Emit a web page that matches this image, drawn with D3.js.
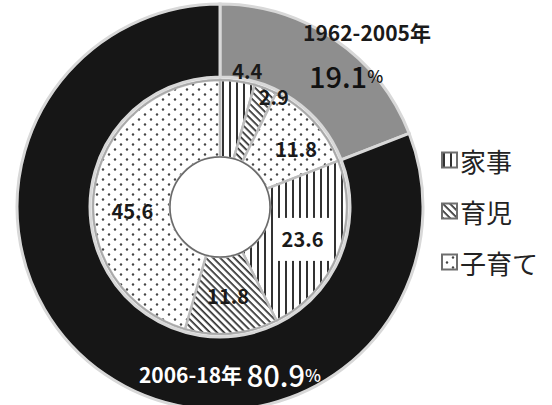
<!DOCTYPE html>
<html><head><meta charset="utf-8">
<script src="https://cdn.jsdelivr.net/npm/d3@7"></script>
<style>
html,body{margin:0;padding:0;background:#fff;}
svg{display:block;font-family:"Noto Sans CJK JP","Noto Sans",sans-serif;}
</style></head>
<body>
<svg id="chart" width="552" height="405"></svg>
<script>
// ---- data ----
const periods = ["1962-2005年", "2006-18年"];
const periodShares = [19.1, 80.9];
const categories = ["家事", "育児", "子育て"];
const earlyValues = [4.4, 2.9, 11.8];
const lateValues = [23.6, 11.8, 45.6];

// ---- layout ----
const W = 552, H = 405;
const cx = 220, cy = 207;
const rHole = 50, rInnerOuter = 127, rOuterInner = 130, rOuter = 203;

const svg = d3.select("#chart");
const defs = svg.append("defs");

// patterns
const pV = defs.append("pattern").attr("id", "pat-kaji").attr("patternUnits", "userSpaceOnUse")
  .attr("width", 7).attr("height", 7);
pV.append("rect").attr("width", 7).attr("height", 7).attr("fill", "#fff");
pV.append("rect").attr("x", 2).attr("width", 2).attr("height", 7).attr("fill", "#333");

const pD = defs.append("pattern").attr("id", "pat-ikuji").attr("patternUnits", "userSpaceOnUse")
  .attr("width", 5).attr("height", 5).attr("patternTransform", "rotate(45)");
pD.append("rect").attr("width", 5).attr("height", 5).attr("fill", "#fff");
pD.append("rect").attr("width", 5).attr("height", 1.7).attr("fill", "#2e2e2e");

const pDot = defs.append("pattern").attr("id", "pat-kosodate").attr("patternUnits", "userSpaceOnUse")
  .attr("width", 12).attr("height", 10);
pDot.append("rect").attr("width", 12).attr("height", 10).attr("fill", "#fff");
pDot.append("circle").attr("cx", 3).attr("cy", 2.5).attr("r", 1.2).attr("fill", "#444");
pDot.append("circle").attr("cx", 9).attr("cy", 7.5).attr("r", 1.2).attr("fill", "#444");

const patternOf = d3.scaleOrdinal().domain(categories)
  .range(["url(#pat-kaji)", "url(#pat-ikuji)", "url(#pat-kosodate)"]);
const periodFill = d3.scaleOrdinal().domain(periods).range(["#8e8e8e", "#141414"]);

const blur = defs.append("filter").attr("id", "soft");
blur.append("feGaussianBlur").attr("stdDeviation", 0.5);

const g = svg.append("g").attr("transform", `translate(${cx},${cy})`).attr("filter", "url(#soft)");

// outer ring
const pie = d3.pie().sort(null).value(d => d.v);
const outerData = pie(periods.map((p, i) => ({ p, v: periodShares[i] })));
const outerArc = d3.arc().innerRadius(rOuterInner).outerRadius(rOuter);
g.selectAll("path.outer").data(outerData).join("path")
  .attr("class", "outer")
  .attr("d", outerArc)
  .attr("fill", d => periodFill(d.data.p))
  .attr("stroke", "#d8d8d8").attr("stroke-width", 3);

// inner ring
const innerRows = [];
earlyValues.forEach((v, i) => innerRows.push({ c: categories[i], v }));
lateValues.forEach((v, i) => innerRows.push({ c: categories[i], v }));
const innerData = pie(innerRows);
const innerArc = d3.arc().innerRadius(rHole).outerRadius(rInnerOuter);
g.selectAll("path.inner").data(innerData).join("path")
  .attr("class", "inner")
  .attr("d", innerArc)
  .attr("fill", d => patternOf(d.data.c))
  .attr("stroke", "#bdbdbd").attr("stroke-width", 2.5);

// ring borders
g.append("circle").attr("r", rInnerOuter).attr("fill", "none").attr("stroke", "#a8a8a8").attr("stroke-width", 1.5);
g.append("circle").attr("r", rHole).attr("fill", "#fff").attr("stroke", "#6a6a6a").attr("stroke-width", 1.5);

// inner labels (centroid + nudge)
const labelNudge = [[15, -49], [22, -28], [11, 1], [0, 0], [0, 0], [0, 16]];
const labels = svg.append("g").attr("transform", `translate(${cx},${cy})`);
innerData.forEach((d, i) => {
  const [x, y] = innerArc.centroid(d);
  const lx = x + labelNudge[i][0], ly = y + labelNudge[i][1];
  const txt = d3.format(".1f")(d.data.v);
  const t = labels.append("text")
    .attr("x", lx).attr("y", ly)
    .attr("text-anchor", "middle").attr("dominant-baseline", "central")
    .attr("font-size", 20).attr("font-weight", "bold").attr("fill", "#1a1a1a")
    .text(txt);
  if (i === 3) {
    const bb = t.node().getBBox();
    labels.insert("rect", "text")
      .attr("x", bb.x - 4).attr("y", ly - 21)
      .attr("width", bb.width + 10).attr("height", 43)
      .attr("fill", "#fff");
  }
});

// outer labels
const outerNudge = [[[53, -38], [32, 5]], [[104, 30]]];
{
  const [x0, y0] = outerArc.centroid(outerData[0]);
  labels.append("text")
    .attr("x", x0 + outerNudge[0][0][0]).attr("y", y0 + outerNudge[0][0][1])
    .attr("text-anchor", "middle").attr("dominant-baseline", "central")
    .attr("font-size", 21).attr("font-weight", "bold").attr("fill", "#1a1a1a")
    .text(periods[0]);
  const t = labels.append("text")
    .attr("x", x0 + outerNudge[0][1][0]).attr("y", y0 + outerNudge[0][1][1])
    .attr("text-anchor", "middle").attr("dominant-baseline", "central")
    .attr("fill", "#111").attr("font-weight", 500);
  t.append("tspan").attr("font-size", 29).text(d3.format(".1f")(periodShares[0]));
  t.append("tspan").attr("font-size", 17).text("%");

  const [x1, y1] = outerArc.centroid(outerData[1]);
  const b = labels.append("text")
    .attr("x", x1 + outerNudge[1][0][0]).attr("y", y1 + outerNudge[1][0][1])
    .attr("text-anchor", "middle").attr("dominant-baseline", "central")
    .attr("fill", "#fff");
  b.append("tspan").attr("font-size", 21).attr("font-weight", "bold").text(periods[1] + " ");
  b.append("tspan").attr("font-size", 29).attr("font-weight", 500).text(d3.format(".1f")(periodShares[1]));
  b.append("tspan").attr("font-size", 17).attr("font-weight", 500).text("%");
}

// legend
const legendY = d3.scalePoint().domain(categories).range([160, 262]);
const leg = svg.append("g");
categories.forEach(c => {
  const y = legendY(c);
  leg.append("rect").attr("x", 442).attr("y", y - 7.5).attr("width", 15).attr("height", 15)
    .attr("fill", patternOf(c)).attr("stroke", "#6e6e6e").attr("stroke-width", 2);
  leg.append("text").attr("x", 460).attr("y", y)
    .attr("dominant-baseline", "central")
    .attr("font-size", 26).attr("fill", "#222")
    .text(c);
});
</script>
</body></html>
